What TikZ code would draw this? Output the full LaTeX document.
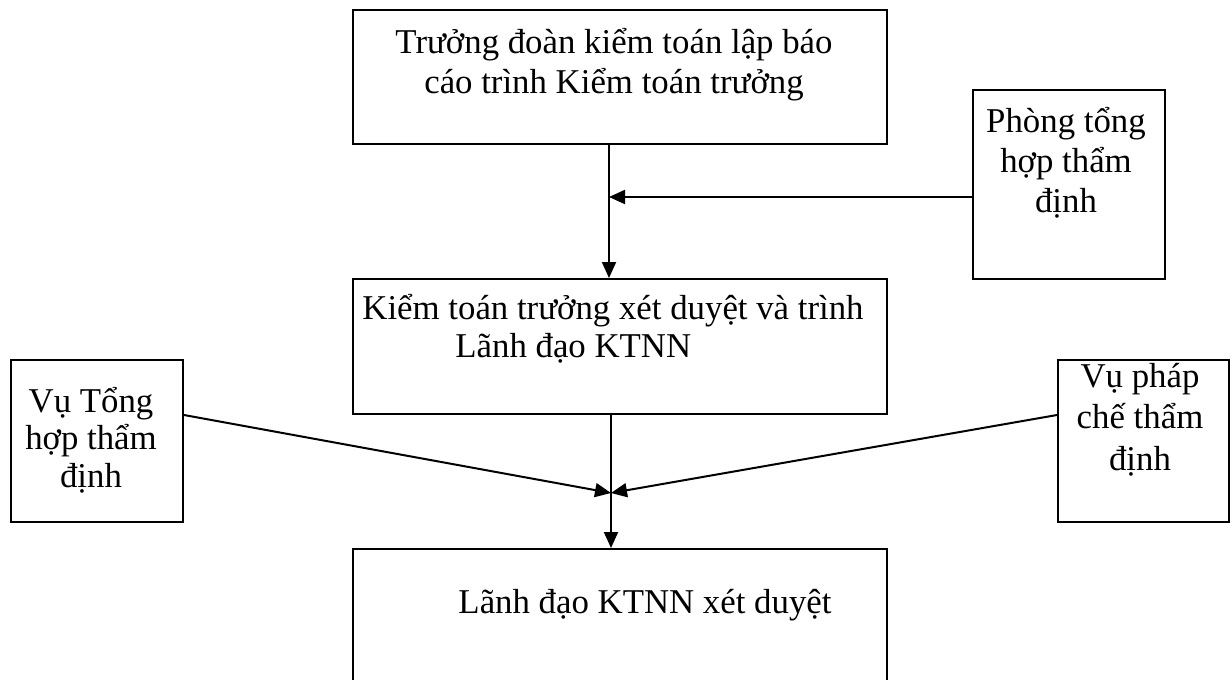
\documentclass[tikz,border=0pt]{standalone}
\usepackage{fontspec}
\setmainfont{Liberation Serif}
\usetikzlibrary{arrows.meta}
\begin{document}
\begin{tikzpicture}[x=0.5pt,y=-0.5pt,
  box/.style={draw,line width=1pt,inner sep=0pt,anchor=north west,rectangle},
  txt/.style={font=\fontsize{17.4}{20}\selectfont,align=center,inner sep=0pt,anchor=base},
  arr/.style={line width=1pt,-{Triangle[length=8pt,width=7pt]}}]
\clip (0,0) rectangle (1232,680);
\fill[white] (0,0) rectangle (1232,680);
% boxes
\node[box,minimum width=267pt,minimum height=67pt] (top) at (352,9) {};
\node[box,minimum width=267pt,minimum height=67.5pt] (mid) at (352,278) {};
\node[box,minimum width=267pt,minimum height=106pt] (bot) at (352,548) {};
\node[box,minimum width=96pt,minimum height=94.5pt] (phong) at (972,89) {};
\node[box,minimum width=86pt,minimum height=81pt] (vutong) at (10,359) {};
\node[box,minimum width=85.5pt,minimum height=81pt] (vupc) at (1057,359) {};
% texts (anchor = baseline of last line)
\node[txt] (ttop) at (614,93) {Trưởng đoàn kiểm toán lập báo\\cáo trình Kiểm toán trưởng};
\node[txt,font=\fontsize{17.4}{19}\selectfont,align=left,anchor=base west] (tmid) at (362,357) {Kiểm toán trưởng xét duyệt và trình\\\hspace*{46.5pt}Lãnh đạo KTNN};
\node[txt] (tbot) at (645,613) {Lãnh đạo KTNN xét duyệt};
\node[txt] (tphong) at (1066,212) {Phòng tổng\\hợp thẩm\\định};
\node[txt,font=\fontsize{17.4}{18.75}\selectfont] (tvutong) at (91,487) {Vụ Tổng\\hợp thẩm\\định};
\node[txt,font=\fontsize{17.4}{20.75}\selectfont] (tvupc) at (1140,470) {Vụ pháp\\chế thẩm\\định};
% junctions
\coordinate (j1) at (609,197);
\coordinate (j2) at (611,493);
% connectors
\draw[arr] (top.south -| j1) -- (mid.north -| j1);
\draw[arr] (phong.west |- j1) -- (j1);
\draw[arr] (mid.south -| j2) -- (bot.north -| j2);
\draw[arr] (vutong.east |- mid.south) -- (j2);
\draw[arr] (vupc.west |- mid.south) -- (j2);
\end{tikzpicture}
\end{document}
